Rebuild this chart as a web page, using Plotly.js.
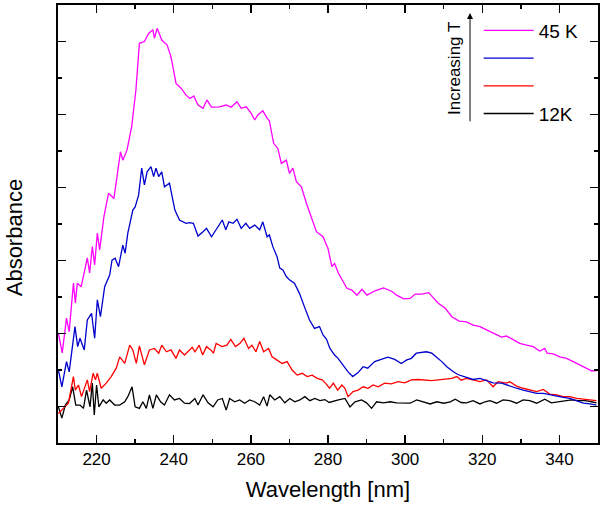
<!DOCTYPE html>
<html>
<head>
<meta charset="utf-8">
<script src="https://cdn.plot.ly/plotly-3.0.1.min.js"></script>
<style>html,body{margin:0;padding:0;background:#fff;}#chart{width:600px;height:507px;}</style>
</head>
<body>
<div id="chart"></div>
<script>
// Wavelength (nm) and absorbance (arbitrary units)
const wl45 = [210.1,211.1,212.2,212.9,214.0,214.5,215.0,216.0,217.6,218.2,218.9,219.5,220.2,220.8,221.9,223.1,224.5,225.5,226.2,226.8,227.9,229.1,230.2,231.1,232.4,233.5,234.6,235.0,235.7,236.9,238.3,239.3,240.6,241.9,243.2,244.2,245.2,246.3,247.6,248.6,249.8,251.9,253.6,254.9,256.4,257.5,258.8,260.1,261.0,261.8,263.1,264.2,264.8,265.9,267.0,267.9,269.2,270.0,270.9,271.8,273.1,274.4,275.7,277.0,278.7,280.0,281.0,281.7,282.7,284.9,286.2,287.5,288.8,290.1,292.2,294.4,296.6,297.8,299.6,301.3,302.6,304.3,306.1,307.3,308.6,310.4,312.1,314.0,315.9,317.6,319.4,321.1,322.8,325.0,326.3,328.0,329.7,331.5,333.2,334.9,336.2,336.8,338.4,340.1,341.8,343.6,345.3,347.0,348.3,349.6];
const abs45 = [3.01,2.47,3.42,3.05,4.38,3.84,4.38,4.28,5.07,4.66,5.38,4.88,5.75,5.29,6.20,6.84,6.70,7.39,7.98,7.75,8.03,8.67,9.67,10.95,11.00,11.22,11.32,11.09,11.36,11.04,10.90,10.58,9.85,9.72,9.53,9.44,9.51,9.26,9.17,9.40,9.20,9.21,9.26,9.20,9.35,9.17,9.21,9.03,8.85,8.99,9.10,8.90,8.83,8.21,8.07,7.66,7.75,7.39,7.53,7.16,7.02,6.57,6.16,5.79,5.65,5.33,4.83,4.92,4.65,4.24,4.19,4.05,4.21,4.05,4.17,4.25,4.15,4.05,3.95,3.96,4.08,4.08,4.12,3.99,3.83,3.69,3.46,3.34,3.32,3.23,3.19,3.10,3.02,2.90,2.93,2.82,2.73,2.68,2.64,2.52,2.59,2.46,2.44,2.36,2.32,2.23,2.14,2.07,1.98,1.98];

const wlB = [210.1,211.0,212.2,212.9,214.4,215.1,215.7,216.8,217.6,218.7,219.5,220.2,221.0,222.1,223.4,224.0,224.8,225.7,226.8,227.4,228.1,229.4,230.0,230.9,231.7,232.4,233.1,234.1,234.8,235.4,236.1,236.9,237.6,238.9,240.3,241.5,243.2,244.1,245.1,246.3,247.6,248.5,249.8,251.1,252.6,253.5,254.3,255.4,256.4,257.5,258.7,259.7,261.0,262.3,263.1,264.2,264.8,265.7,266.8,267.5,268.3,269.2,270.0,271.3,272.6,273.9,275.2,276.5,277.8,278.7,279.6,280.5,281.7,282.6,283.9,285.2,286.4,287.8,289.1,290.3,292.1,293.8,295.5,297.3,299.0,300.3,301.6,302.9,304.2,305.5,306.9,308.2,309.5,310.8,312.5,313.8,315.4,317.6,319.4,321.1,322.8,325.0,327.1,328.9,330.6,332.3,334.1,335.8,337.5,339.3,341.0,342.7,344.5,346.2,347.9,349.6];
const absB = [2.00,1.54,2.23,1.95,3.19,2.64,2.87,2.55,3.37,3.55,2.87,3.92,3.46,4.28,4.60,5.01,5.06,4.83,5.42,5.20,5.75,6.38,6.47,6.79,7.53,7.07,7.43,7.57,7.30,7.53,7.30,7.43,7.02,7.12,6.38,6.11,6.02,6.04,6.02,5.67,5.79,5.88,5.65,5.88,6.11,5.84,6.06,6.02,6.13,5.88,6.02,5.88,5.97,5.84,6.06,5.65,5.70,5.38,5.10,4.79,4.74,4.56,4.47,4.38,4.10,3.73,3.37,3.14,3.19,2.96,2.85,2.59,2.41,2.32,2.14,1.95,1.82,1.93,2.09,2.05,2.23,2.29,2.35,2.29,2.18,2.27,2.32,2.46,2.48,2.50,2.46,2.35,2.23,2.09,1.95,1.87,1.82,1.74,1.77,1.71,1.65,1.64,1.56,1.50,1.45,1.41,1.36,1.36,1.32,1.27,1.25,1.22,1.16,1.09,1.07,1.04];

const wlR = [210.1,211.4,212.7,214.0,214.5,215.3,216.1,217.6,218.2,219.1,219.7,220.2,221.2,222.5,223.8,225.1,226.0,227.3,228.6,229.4,230.3,231.1,232.4,233.7,235.0,236.1,236.9,238.1,239.3,240.6,241.5,242.8,244.1,244.8,245.5,246.6,247.5,248.5,249.6,250.3,251.0,252.5,253.8,254.8,256.0,257.2,258.2,259.4,260.3,261.3,262.3,263.3,264.6,265.5,266.8,268.1,269.4,270.7,272.0,273.3,274.6,275.9,277.2,278.5,279.5,280.4,281.4,282.5,283.6,284.4,285.2,286.5,287.8,289.1,290.4,291.7,293.0,294.7,296.4,298.2,299.9,301.6,303.4,305.1,306.9,308.6,310.3,312.1,313.4,314.5,315.9,317.6,319.4,321.1,322.8,324.1,326.3,327.1,328.9,330.6,332.3,334.1,335.8,337.5,339.3,341.0,342.7,344.5,346.2,347.9,349.6];
const absR = [0.81,0.95,1.09,1.82,1.45,1.59,1.27,1.73,1.41,1.91,1.73,1.91,1.50,1.64,1.82,2.05,2.36,2.18,2.68,2.55,2.18,2.66,2.14,2.55,2.59,2.46,2.68,2.50,2.55,2.32,2.55,2.41,2.55,2.62,2.50,2.68,2.41,2.64,2.55,2.46,2.73,2.64,2.68,2.84,2.64,2.73,2.87,2.59,2.68,2.50,2.78,2.50,2.59,2.36,2.27,2.18,2.23,2.00,1.86,1.91,1.82,1.86,1.77,1.73,1.62,1.50,1.64,1.45,1.59,1.50,1.27,1.41,1.45,1.54,1.50,1.59,1.54,1.64,1.62,1.68,1.65,1.73,1.74,1.73,1.71,1.73,1.74,1.77,1.82,1.72,1.77,1.73,1.68,1.73,1.54,1.68,1.64,1.68,1.56,1.50,1.45,1.41,1.47,1.34,1.32,1.27,1.27,1.22,1.20,1.18,1.16];

const wl12 = [210.1,211.0,211.9,212.9,213.8,214.6,215.7,216.6,217.4,218.3,218.9,219.4,220.0,220.6,221.7,222.5,223.4,224.7,226.0,227.3,228.1,229.2,230.0,231.1,232.0,232.9,233.7,234.6,235.5,236.6,237.6,238.9,240.2,241.5,242.8,244.1,245.5,246.3,247.6,248.9,250.2,251.4,252.6,253.6,254.5,255.8,257.1,258.4,259.7,261.0,262.3,263.3,264.2,264.9,266.2,267.5,268.8,270.1,271.4,272.7,274.0,275.3,276.6,277.9,279.2,280.3,282.7,284.4,285.7,287.0,288.7,290.0,291.3,292.6,294.4,296.1,297.8,299.6,301.3,303.0,304.8,306.5,308.2,310.0,311.7,313.0,314.5,315.9,317.6,319.4,320.7,322.0,323.7,325.4,327.1,328.9,330.6,332.3,334.1,336.2,337.9,339.7,341.4,343.1,344.9,346.6,348.3,349.6];
const abs12 = [0.99,0.68,1.04,1.18,1.54,1.04,1.04,0.95,1.45,0.99,1.64,0.77,1.59,0.99,1.18,1.09,1.18,1.04,1.04,1.13,1.27,1.54,0.99,0.95,1.13,0.95,1.32,0.95,1.32,1.13,1.04,1.32,1.18,1.22,1.09,1.08,1.22,1.04,1.32,1.10,0.99,1.18,1.22,0.90,1.22,1.13,1.18,1.09,1.18,1.13,1.04,1.27,1.01,1.32,1.18,1.27,1.10,1.22,1.13,1.18,1.27,1.16,1.22,1.16,1.19,1.11,1.18,1.22,0.99,1.13,1.18,1.10,0.95,1.13,1.10,1.13,1.10,1.09,1.09,1.18,1.13,1.07,1.13,1.09,1.13,1.20,1.11,1.10,1.16,1.07,1.13,1.16,1.09,1.18,1.16,1.09,1.18,1.16,1.09,1.20,1.10,1.13,1.16,1.18,1.16,1.16,1.13,1.10];

const seriesNames = ['12K', ' ', ' ', '45 K'];
const seriesColors = ['#000000', '#ff0000', '#0000cc', '#ff00ff'];

const FONT = 'Liberation Sans, Arial, sans-serif';

const traces = [
  {x: wl12, y: abs12},
  {x: wlR, y: absR},
  {x: wlB, y: absB},
  {x: wl45, y: abs45}
].map((d, i) => ({
  x: d.x, y: d.y, type: 'scatter', mode: 'lines',
  name: seriesNames[i],
  line: {color: seriesColors[i], width: 1.3}
}));

const axisCommon = {
  showline: true, linecolor: '#000', linewidth: 2, mirror: 'ticks',
  ticks: 'inside', ticklen: 8, tickwidth: 1.5, tickcolor: '#000',
  showgrid: false, zeroline: false
};

const layout = {
  width: 600, height: 507,
  margin: {l: 58, r: 2, t: 5, b: 64},
  paper_bgcolor: '#fff', plot_bgcolor: '#fff',
  font: {family: FONT, color: '#000'},
  showlegend: true,
  legend: {
    x: 0.779, y: 0.985, xanchor: 'left', yanchor: 'top',
    traceorder: 'reversed', bgcolor: 'rgba(0,0,0,0)',
    font: {family: FONT, size: 19, color: '#000'},
    itemwidth: 50
  },
  xaxis: Object.assign({}, axisCommon, {
    range: [210, 350], tick0: 200, dtick: 20,
    tickfont: {family: FONT, size: 17, color: '#000'},
    minor: {dtick: 10, tick0: 210, ticks: 'inside', ticklen: 4, tickwidth: 1.5, tickcolor: '#000'},
    title: {text: 'Wavelength [nm]', font: {family: FONT, size: 22, color: '#000'}, standoff: 13}
  }),
  yaxis: Object.assign({}, axisCommon, {
    range: [0, 12], tick0: 1, dtick: 2, showticklabels: false,
    minor: {dtick: 1, tick0: 0, ticks: 'inside', ticklen: 4, tickwidth: 1.5, tickcolor: '#000'}
  }),
  annotations: [
    {
      xref: 'paper', yref: 'paper', x: -0.081, y: 0.468,
      xanchor: 'center', yanchor: 'middle',
      text: 'Absorbance', textangle: -90, showarrow: false,
      font: {family: FONT, size: 22, color: '#000'}
    },
    {
      xref: 'paper', yref: 'paper', x: 0.763, y: 0.982,
      axref: 'paper', ayref: 'paper', ax: 0.763, ay: 0.731,
      showarrow: true, arrowhead: 2, arrowsize: 1.2, arrowwidth: 1, arrowcolor: '#000', text: ''
    },
    {
      xref: 'paper', yref: 'paper', x: 0.733, y: 0.856,
      xanchor: 'center', yanchor: 'middle',
      text: 'Increasing T', textangle: -90, showarrow: false,
      font: {family: FONT, size: 17, color: '#000'}
    }
  ]
};

Plotly.newPlot('chart', traces, layout, {displayModeBar: false, staticPlot: true});
</script>
</body>
</html>
